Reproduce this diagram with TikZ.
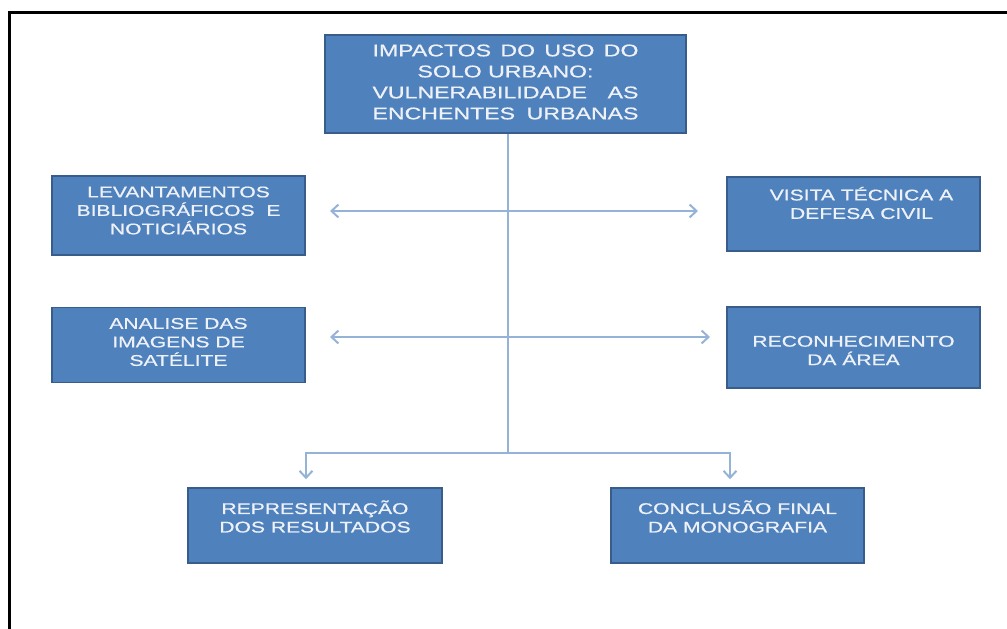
\documentclass[tikz,border=0pt]{standalone}
\usepackage{fontspec}
\setmainfont{Liberation Sans}[FakeStretch=1.36, FakeBold=0.7]
\usetikzlibrary{arrows.meta}
\definecolor{boxfill}{HTML}{4F81BD}
\definecolor{boxline}{HTML}{385D8A}
\definecolor{linkblue}{HTML}{95B3D7}
\definecolor{boxtext}{HTML}{EEF2F8}
\tikzstyle{stage}=[rectangle, fill=boxfill, draw=boxline, line width=1.5pt, minimum width=253pt, minimum height=75pt, inner sep=0pt]
\tikzstyle{caption}=[text=boxtext, align=center, inner sep=0pt, font=\fontsize{15.5}{18.5}\selectfont]
\tikzstyle{link}=[draw=linkblue, line width=2pt]
\tikzstyle{flow}=[-{Straight Barb[length=7pt,width=13pt]}]
\tikzstyle{both}=[{Straight Barb[length=7pt,width=13pt]}-{Straight Barb[length=7pt,width=13pt]}]
\newcommand{\wideline}[1]{\makebox[266pt][s]{#1}}

\begin{document}
\begin{tikzpicture}[x=1pt, y=-1pt]
  \useasboundingbox (0,0) rectangle (1007,629);
  % page frame, only top and left edges
  \draw[line width=3pt] (9.5,629) -- (9.5,12.5) -- (1007,12.5);

  \node[stage, minimum width=361pt, minimum height=98pt,
        label={[caption, font=\fontsize{17}{21}\selectfont, yshift=2pt]center:{%
          \wideline{IMPACTOS DO USO DO}\\SOLO URBANO:\\%
          \wideline{VULNERABILIDADE AS}\\\wideline{ENCHENTES URBANAS}}}]
        (tema) at (505.5,84) {};

  \node[stage, minimum height=79pt,
        label={[caption, yshift=5pt]center:{LEVANTAMENTOS\\BIBLIOGRÁFICOS\ \ E\\NOTICIÁRIOS}}]
        (biblio) at (178.5,215.5) {};
  \node[stage, minimum height=75pt,
        label={[caption, yshift=3pt]center:{ANALISE DAS\\IMAGENS DE\\SATÉLITE}}]
        (imagens) at (178.5,345) {};
  \node[stage, minimum height=74pt,
        label={[caption, xshift=8pt, yshift=11pt]center:{VISITA TÉCNICA A\\DEFESA CIVIL}}]
        (visita) at (853.5,214) {};
  \node[stage, minimum height=81pt,
        label={[caption, yshift=-3pt]center:{RECONHECIMENTO\\DA ÁREA}}]
        (area) at (853.5,347.5) {};

  \node[stage, minimum width=254pt,
        label={[caption, yshift=9pt]center:{REPRESENTAÇÃO\\DOS RESULTADOS}}]
        (result) at (315,525.5) {};
  \node[stage,
        label={[caption, yshift=9pt]center:{CONCLUSÃO FINAL\\DA MONOGRAFIA}}]
        (final) at (737.5,525.5) {};

  % two-way arrows between the side columns
  \coordinate (l1) at (330,211);
  \coordinate (r1) at (698,211);
  \coordinate (l2) at (330,337);
  \coordinate (r2) at (710,337);
  \draw[link, both] (l1) -- (r1);
  \draw[link, both] (l2) -- (r2);

  % trunk and the two branches down
  \coordinate (split) at (508,453);
  \draw[link] (tema.south -| split) -- (split);
  \draw[link, flow] (split) -| ([xshift=-9pt, yshift=8pt]result.north);
  \draw[link, flow] (split) -| ([xshift=-7.5pt, yshift=8pt]final.north);
\end{tikzpicture}
\end{document}
